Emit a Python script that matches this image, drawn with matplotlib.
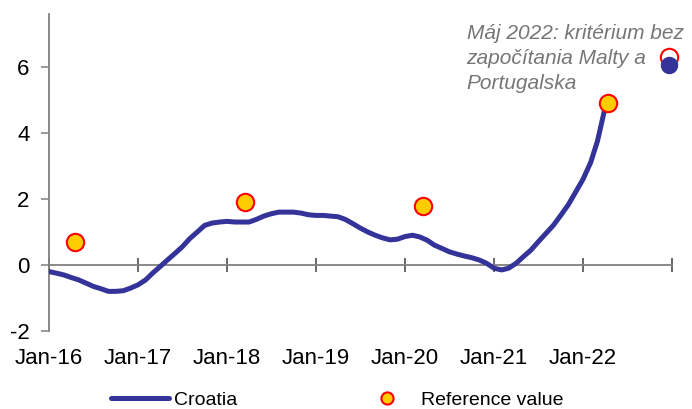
import matplotlib
matplotlib.use("Agg")
import matplotlib.pyplot as plt
import pandas as pd

plt.rcParams['font.family'] = ['Liberation Sans', 'DejaVu Sans']
plt.rcParams['axes.unicode_minus'] = False

# Croatia, monthly Jan-16 .. Apr-22
croatia = [-0.2, -0.25, -0.3, -0.38, -0.45, -0.55, -0.65, -0.72, -0.8, -0.8, -0.78, -0.7,
           -0.6, -0.45, -0.25, -0.05, 0.15, 0.35, 0.55, 0.8, 1.0, 1.2, 1.27, 1.3,
           1.32, 1.3, 1.3, 1.3, 1.38, 1.48, 1.55, 1.6, 1.6, 1.6, 1.57, 1.52,
           1.5, 1.5, 1.48, 1.46, 1.38, 1.25, 1.12, 1.0, 0.9, 0.82, 0.76, 0.78,
           0.86, 0.9, 0.85, 0.75, 0.6, 0.5, 0.4, 0.33, 0.27, 0.22, 0.15, 0.05,
           -0.1, -0.15, -0.1, 0.05, 0.25, 0.45, 0.7, 0.95, 1.2, 1.5, 1.82, 2.2,
           2.6, 3.1, 3.75, 4.75]
months = pd.date_range("2016-01-01", periods=len(croatia), freq="MS")

ref_dates = pd.to_datetime(["2016-04-15", "2018-03-15", "2020-03-15", "2022-04-15"])
ref_values = [0.7, 1.9, 1.8, 4.9]

# May 2022 criterion without Malta and Portugal
may_date = pd.to_datetime(["2022-12-20"])
may_crit = [6.3]
may_hr = [6.05]

tick_dates = pd.date_range("2016-01-01", "2023-01-01", freq="YS")
tick_labels = ["Jan-16", "Jan-17", "Jan-18", "Jan-19", "Jan-20", "Jan-21", "Jan-22", ""]

fig = plt.figure(figsize=(6.92, 4.09), dpi=100)
ax = fig.add_axes([49/692, (409-331)/409, (672-49)/692, (331-14)/409])

ax.plot(months, croatia, color="#333399", lw=3.6, solid_capstyle="round", label="Croatia", zorder=3)
ax.plot(ref_dates, ref_values, "o", ms=12.5, mfc="#FFCC00", mec="#FF0000", mew=1.5,
        label="Reference value", zorder=4)
ax.plot(may_date, may_crit, "o", ms=12.5, mfc="none", mec="#FF0000", mew=1.5, zorder=4, clip_on=False)
ax.plot(may_date, may_hr, "o", ms=11.5, mfc="#333399", mec="#333399", zorder=5, clip_on=False)

ax.text(pd.Timestamp("2020-09-10"), 7.3,
        "Máj 2022: kritérium bez\nzapočítania Malty a\nPortugalska",
        fontsize=15, style="italic", color="#767676", va="top", ha="left",
        linespacing=1.4)

ax.set_xlim(pd.Timestamp("2016-01-01"), pd.Timestamp("2023-01-01"))
ax.set_ylim(-2, 7.6)
ax.set_yticks([-2, 0, 2, 4, 6])

ax.spines['top'].set_visible(False)
ax.spines['right'].set_visible(False)
ax.spines['left'].set_color("#808080")
ax.spines['left'].set_linewidth(1.3)
ax.spines['bottom'].set_position(('data', 0))
ax.spines['bottom'].set_color("#808080")
ax.spines['bottom'].set_linewidth(1.3)

ax.set_xticks(tick_dates)
ax.set_xticklabels(tick_labels)
ax.tick_params(axis='x', direction='inout', length=10, width=1.1, color="#404040",
               pad=55, labelsize=16)
ax.tick_params(axis='y', direction='out', length=6, width=1.1, color="#808080",
               pad=8, labelsize=16)

fig.legend(loc="center", bbox_to_anchor=(0.487, 0.022), ncol=2, frameon=False,
           fontsize=14, handlelength=3, handletextpad=0.25, columnspacing=6.2,
           markerscale=0.7, borderpad=0.1)

fig.savefig("out.png", dpi=100)
